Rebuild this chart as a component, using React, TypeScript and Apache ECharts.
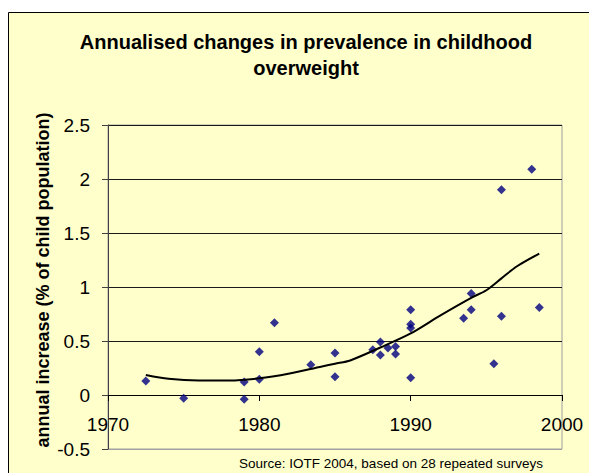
import React, { useEffect, useRef } from "react";
import * as echarts from "echarts";

const titleLines = ["Annualised changes in prevalence in childhood", "overweight"];
const yAxisName = "annual increase (% of child population)";
const sourceText = "Source: IOTF 2004, based on 28 repeated surveys";

const surveyYears = [
  1972.5, 1975, 1979, 1979, 1980, 1980, 1981, 1983.4, 1985, 1985,
  1987.5, 1988, 1988, 1988.5, 1989, 1989, 1990, 1990, 1990, 1990,
  1993.5, 1994, 1994, 1995.5, 1996, 1996, 1998, 1998.5,
];
const annualIncrease = [
  0.13, -0.03, 0.12, -0.04, 0.145, 0.4, 0.67, 0.28, 0.39, 0.17,
  0.42, 0.49, 0.37, 0.435, 0.45, 0.38, 0.79, 0.655, 0.62, 0.16,
  0.71, 0.94, 0.79, 0.29, 1.9, 0.73, 2.09, 0.81,
];

const trendYears = [1972.5, 1974, 1976, 1978, 1980, 1982, 1984, 1985, 1986, 1988, 1990, 1992, 1994, 1995, 1996, 1997, 1998.5];
const trendValues = [0.185, 0.15, 0.135, 0.135, 0.155, 0.2, 0.26, 0.29, 0.32, 0.44, 0.57, 0.74, 0.9, 0.97, 1.08, 1.19, 1.31];

const FONT = "'Liberation Sans', Arial, sans-serif";

export default function App() {
  const ref = useRef<HTMLDivElement>(null);
  useEffect(() => {
    if (!ref.current) return;
    const chart = echarts.init(ref.current, null, { renderer: "svg" });
    const scatterData = surveyYears.map((x, i) => [x, annualIncrease[i]]);
    const trendData = trendYears.map((x, i) => [x, trendValues[i]]);
    chart.setOption({
      animation: false,
      backgroundColor: "#ffffff",
      textStyle: { fontFamily: FONT },
      graphic: [
        {
          type: "rect",
          z: -10,
          silent: true,
          shape: { x: 8.5, y: 12.5, width: 700, height: 600 },
          style: { fill: "#FFFFCC", stroke: "#000000", lineWidth: 1 },
        },
        {
          type: "text",
          x: 306,
          y: 42,
          style: {
            text: titleLines[0],
            fontFamily: FONT,
            fontSize: 20,
            fontWeight: "bold",
            fill: "#000",
            align: "center",
            verticalAlign: "middle",
          },
        },
        {
          type: "text",
          x: 306,
          y: 68,
          style: {
            text: titleLines[1],
            fontFamily: FONT,
            fontSize: 20,
            fontWeight: "bold",
            fill: "#000",
            align: "center",
            verticalAlign: "middle",
          },
        },
        {
          type: "text",
          x: 43,
          y: 280,
          rotation: Math.PI / 2,
          style: {
            text: yAxisName,
            fontFamily: FONT,
            fontSize: 18,
            fontWeight: "bold",
            fill: "#000",
            align: "center",
            verticalAlign: "middle",
          },
        },
        {
          type: "text",
          x: 543,
          y: 463,
          style: {
            text: sourceText,
            fontFamily: FONT,
            fontSize: 13.5,
            fill: "#000",
            align: "right",
            verticalAlign: "middle",
          },
        },
      ],
      grid: {
        left: 108,
        top: 125,
        right: 27,
        bottom: 24,
        show: true,
        containLabel: false,
        outerBoundsMode: "none",
        backgroundColor: "transparent",
        borderColor: "#a0a0a0",
        borderWidth: 1,
      },
      xAxis: {
        type: "value",
        min: 1970,
        max: 2000,
        interval: 10,
        position: "bottom",
        offset: -54,
        axisLine: { show: true, onZero: false, lineStyle: { color: "#000", width: 1 } },
        axisTick: { show: true, length: 6, lineStyle: { color: "#000" } },
        axisLabel: {
          fontSize: 19,
          color: "#000",
          margin: 20,
          fontFamily: FONT,
          formatter: (v: number) => String(v),
        },
        splitLine: { show: false },
      },
      yAxis: {
        type: "value",
        min: -0.5,
        max: 2.5,
        interval: 0.5,
        axisLine: { show: true, onZero: false, lineStyle: { color: "#404040", width: 1 } },
        axisTick: { show: true, length: 6, lineStyle: { color: "#404040" } },
        axisLabel: { fontSize: 19, color: "#000", margin: 18, fontFamily: FONT },
        splitLine: {
          show: true,
          lineStyle: {
            color: ["#a0a0a0", "#1a1a1a", "#1a1a1a", "#1a1a1a", "#1a1a1a", "#1a1a1a", "#1a1a1a"],
            width: 1,
          },
        },
      },
      series: [
        {
          type: "scatter",
          data: scatterData,
          symbol: "diamond",
          symbolSize: 9,
          itemStyle: { color: "#000080" },
          z: 3,
        },
        {
          type: "line",
          data: trendData,
          showSymbol: false,
          smooth: 0.3,
          lineStyle: { color: "#000", width: 2 },
          z: 4,
        },
      ],
    });
    return () => chart.dispose();
  }, []);
  return (
    <div
      ref={ref}
      style={{ position: "fixed", left: 0, top: 0, width: 589, height: 473 }}
    />
  );
}
